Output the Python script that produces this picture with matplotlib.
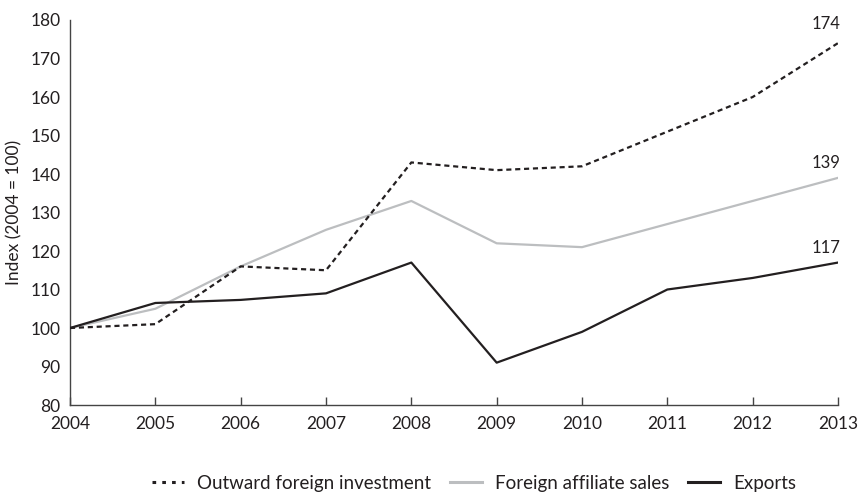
import matplotlib
matplotlib.use('Agg')
from matplotlib import pyplot as plt
from matplotlib.lines import Line2D

years = [2004, 2005, 2006, 2007, 2008, 2009, 2010, 2011, 2012, 2013]
outward = [100, 101, 116, 115, 143, 141, 142, 151, 160, 174]
affiliate = [100, 105, 116, 125.5, 133, 122, 121, 127, 133, 139]
exports = [100, 106.5, 107.3, 109, 117, 91, 99, 110, 113, 117]
end_labels = ['174', '139', '117']

plt.rcParams['font.family'] = ['Lato', 'DejaVu Sans']
txt = '#231f20'
grey = '#bcbec0'

fig = plt.figure(figsize=(8.58, 4.95), dpi=100)
ax = fig.add_axes([0.0816, 0.1818, 0.8951, 0.7778])

ax.plot(years, outward, color=txt, linewidth=1.6,
        linestyle=(0, (2.3, 1.7)), zorder=3)
ax.plot(years, affiliate, color=grey, linewidth=1.6, zorder=2)
ax.plot(years, exports, color=txt, linewidth=1.6, zorder=4)

# value labels at the last year
offsets = [10, 7, 7]
for series, lab, dy in zip([outward, affiliate, exports], end_labels, offsets):
    ax.annotate(lab, (years[-1], series[-1]), xytext=(1.5, dy),
                textcoords='offset points', ha='right', va='baseline',
                fontsize=12, color=txt, annotation_clip=False)

ax.set_xlim(2004, 2013)
ax.set_ylim(80, 180)
ax.set_xticks(years)
ax.set_yticks(range(80, 181, 10))

for s in ['top', 'right']:
    ax.spines[s].set_visible(False)
for s in ['left', 'bottom']:
    ax.spines[s].set_color('#444444')
    ax.spines[s].set_linewidth(1.0)

ax.tick_params(axis='x', direction='in', length=6, width=1, color='#444444',
               labelsize=12.5, labelcolor=txt, pad=8)
ax.tick_params(axis='y', length=0, labelsize=12.5, labelcolor=txt, pad=7)

ax.set_ylabel('Index (2004 = 100)', fontsize=12.5, color=txt)
ax.yaxis.set_label_coords(-0.062, 0.5)

handles = [
    Line2D([], [], color=txt, linewidth=2.2, linestyle=(0, (1.2, 2.0))),
    Line2D([], [], color=grey, linewidth=2.2),
    Line2D([], [], color=txt, linewidth=2.2),
]
labels = ['Outward foreign investment', 'Foreign affiliate sales', 'Exports']
leg = fig.legend(handles, labels, loc='center', bbox_to_anchor=(0.5524, 0.0242),
                 ncol=3, frameon=False, fontsize=13.5, handlelength=1.7,
                 columnspacing=1.0, handletextpad=0.7, borderpad=0,
                 borderaxespad=0)
for t in leg.get_texts():
    t.set_color(txt)

plt.savefig('out.png', dpi=100)
